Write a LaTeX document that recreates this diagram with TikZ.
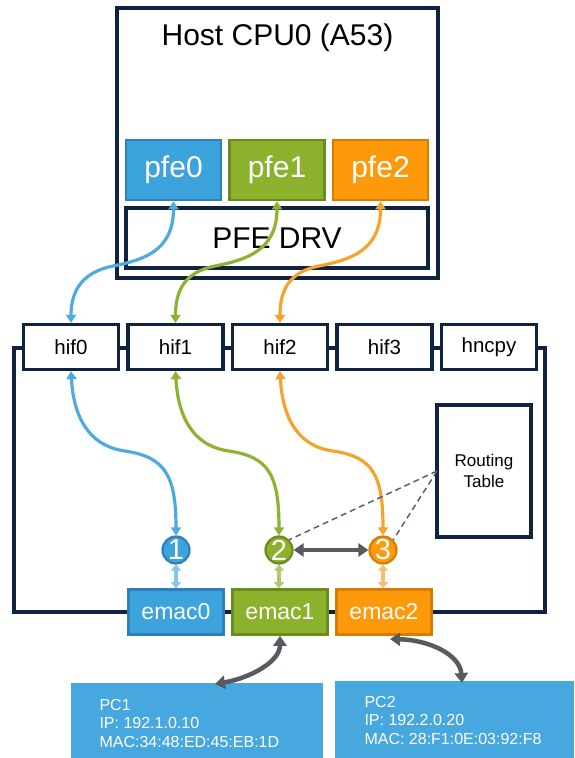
\documentclass[tikz,border=0pt]{standalone}
\usepackage{fontspec}
\setmainfont{Liberation Sans}
\usetikzlibrary{arrows.meta}
\definecolor{navy}{HTML}{0F2341}
\definecolor{pblue}{HTML}{3DA3DC}
\definecolor{pblueD}{HTML}{2E80B8}
\definecolor{pgreen}{HTML}{8CB12D}
\definecolor{pgreenD}{HTML}{6A8C1C}
\definecolor{porange}{HTML}{FF990C}
\definecolor{porangeD}{HTML}{DA7C00}
\definecolor{lblue}{HTML}{4DAAE2}
\definecolor{lgreen}{HTML}{8DB330}
\definecolor{lorange}{HTML}{F8A22E}
\definecolor{pcblue}{HTML}{47A8E0}
\definecolor{grayarrow}{HTML}{575A5E}
\definecolor{dashcol}{HTML}{4A5A72}
\begin{document}
\begin{tikzpicture}[x=1pt,y=-1pt,
  outline/.style={draw=navy, line width=3.2pt, fill=white, inner sep=0pt, text=black},
  colbox/.style={line width=2.6pt, inner sep=0pt, text=white, minimum width=95pt, minimum height=60pt, font=\fontsize{30}{34}\selectfont},
  hifbox/.style={outline, minimum width=95pt, minimum height=45pt, font=\fontsize{20.5}{24}\selectfont},
  emacbox/.style={line width=2.6pt, inner sep=0pt, text=white, minimum width=95pt, minimum height=45pt, font=\fontsize{23}{27}\selectfont},
  port/.style={circle, line width=2.2pt, inner sep=0pt, minimum size=27pt, text=white, font=\fontsize{29}{29}\selectfont},
  link/.style={line width=3.2pt, {Triangle[width=10pt,length=8pt]}-{Triangle[width=10pt,length=8pt]}},
  short/.style={line width=4pt, {Triangle[width=10pt,length=6pt]}-{Triangle[width=10pt,length=6pt]}},
  grey/.style={draw=grayarrow, line width=4.5pt, {Triangle[width=13pt,length=10pt]}-{Triangle[width=13pt,length=10pt]}},
  pcbox/.style={fill=pcblue, inner sep=0pt},
  pctext/.style={text=white, align=left, anchor=west, font=\fontsize{16}{18.5}\selectfont}]
\useasboundingbox (0,0) rectangle (574,758);
\fill[white] (0,0) rectangle (574,758);

% host processor
\node[outline, minimum width=321pt, minimum height=270pt] (host) at (277.5,143) {};
\node[font=\fontsize{30}{34}\selectfont] (title) at (277.5,38) {Host CPU0 (A53)};
\node[colbox, fill=pblue, draw=pblueD] (pfe0) at (173.5,170) {pfe0};
\node[colbox, fill=pgreen, draw=pgreenD] (pfe1) at (277,170) {pfe1};
\node[colbox, fill=porange, draw=porangeD] (pfe2) at (380.5,170) {pfe2};
\node[outline, minimum width=302pt, minimum height=60pt, font=\fontsize{30}{34}\selectfont] (drv) at (277,238) {PFE DRV};

% PFE block frame, running behind the interface boxes
\coordinate (ftl) at (14,348);
\coordinate (fbl) at (14,612);
\coordinate (fbr) at (545,612);
\coordinate (ftr) at (545,348);
\draw[navy, line width=3.2pt] (489,348) -- (ftr) -- (fbr) -- (fbl) -- (ftl) -- cycle;

\node[hifbox] (hif0) at (71,347) {hif0};
\node[hifbox] (hif1) at (175.5,347) {hif1};
\node[hifbox] (hif2) at (280,347) {hif2};
\node[hifbox] (hif3) at (384.5,347) {hif3};
\node[hifbox] (hncpy) at (489,347) {hncpy};

\node[outline, minimum width=94pt, minimum height=132pt, align=center,
      font=\fontsize{17}{21}\selectfont] (rt) at (484,471) {Routing\\Table};

\node[emacbox, fill=pblue, draw=pblueD] (emac0) at (176,612) {emac0};
\node[emacbox, fill=pgreen, draw=pgreenD] (emac1) at (280,612) {emac1};
\node[emacbox, fill=porange, draw=porangeD] (emac2) at (384,612) {emac2};

\node[port, fill=pblue, draw=pblueD] (c1) at (176,550) {1};
\node[port, fill=pgreen, draw=pgreenD] (c2) at (279,550) {2};
\node[port, fill=porange, draw=porangeD] (c3) at (383,550) {3};

% host to host-interface links
\draw[link, lblue] (pfe0.south) .. controls +(0,50) and (143,260) .. (113,266)
   .. controls (83,272) and (71,290) .. (hif0.north);
\draw[link, lgreen] (pfe1.south) .. controls +(0,50) and (245,260) .. (215,266)
   .. controls (185,272) and (175.5,290) .. (hif1.north);
\draw[link, lorange] (pfe2.south) .. controls +(0,50) and (349,260) .. (319,266)
   .. controls (289,272) and (280,290) .. (hif2.north);

% host interface to classifier ports
\draw[link, lblue] (hif0.south) .. controls +(3,54) and (95,447) .. (125,451)
   .. controls (165,457) and (176,475) .. (c1.north);
\draw[link, lgreen] (hif1.south) .. controls +(3,54) and (199,447) .. (229,451)
   .. controls (269,457) and (279,475) .. (c2.north);
\draw[link, lorange] (hif2.south) .. controls +(3,54) and (303,447) .. (333,451)
   .. controls (373,457) and (383,475) .. (c3.north);

% ports to MACs
\draw[short, lblue!70!white] (c1.south) -- (c1.south |- emac0.north);
\draw[short, lgreen!70!white] (c2.south) -- (c2.south |- emac1.north);
\draw[short, lorange!70!white] (c3.south) -- (c3.south |- emac2.north);

% routing lookups
\coordinate (rtin) at (437,471);
\draw[dashcol, dash pattern=on 6pt off 4pt, line width=1.4pt] (rtin) -- (c2.north east);
\draw[dashcol, dash pattern=on 6pt off 4pt, line width=1.4pt] (rtin) -- (c3.north east);
\draw[grey] (c2.east) -- (c3.west);

% external hosts
\node[pcbox, minimum width=252pt, minimum height=75pt] (pc1) at (197,720.5) {};
\node[pcbox, minimum width=239pt, minimum height=77pt] (pc2) at (454.5,719.5) {};
\node[pctext] (pc1t) at (96,723) {PC1\\IP: 192.1.0.10\\MAC:34:48:ED:45:EB:1D};
\node[pctext] (pc2t) at (361,720) {PC2\\IP: 192.2.0.20\\MAC: 28:F1:0E:03:92:F8};

\coordinate (pc1in) at (215,684);
\coordinate (pc2in) at (462,683);
\coordinate (e2out) at (390,639);
\draw[grey] (emac1.south) .. controls +(0,26) and (250,678) .. (pc1in);
\draw[grey] (e2out) .. controls (430,640) and (460,655) .. (pc2in);
\end{tikzpicture}
\end{document}
